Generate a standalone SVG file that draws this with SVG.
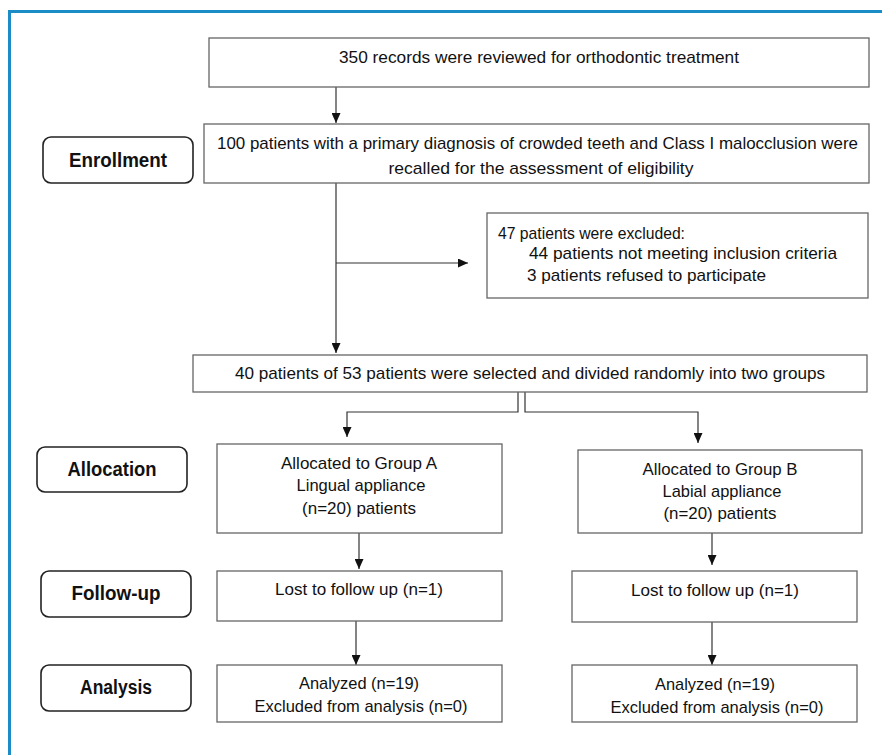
<svg xmlns="http://www.w3.org/2000/svg" width="882" height="755" viewBox="0 0 882 755">
<defs>
<marker id="ah" markerUnits="userSpaceOnUse" markerWidth="10" markerHeight="9" viewBox="0 0 10 9" refX="10" refY="4.5" orient="auto">
<path d="M0 0 L10 4.5 L0 9 z" fill="#111"/>
</marker>
<style>
.box{fill:#fff;stroke:#666;stroke-width:1.3}
.lab{fill:#fff;stroke:#222;stroke-width:1.6}
.t{font-family:"Liberation Sans",Arial,sans-serif;font-size:17px;fill:#111;text-anchor:middle}
.tl{font-family:"Liberation Sans",Arial,sans-serif;font-size:17px;fill:#111}
.b{font-family:"Liberation Sans",Arial,sans-serif;font-size:20px;font-weight:bold;fill:#111;text-anchor:middle}
.c{fill:none;stroke:#333;stroke-width:1.2}
</style>
</defs>
<rect width="882" height="755" fill="#fff"/>
<path d="M9.5 755 V11.5 H882" fill="none" stroke="#1a8cc6" stroke-width="3"/>

<g id="connectors">
<path class="c" d="M336 87 V123" marker-end="url(#ah)"/>
<path class="c" d="M336 183 V353" marker-end="url(#ah)"/>
<path class="c" d="M336 263 H468" marker-end="url(#ah)"/>
<path class="c" d="M518 392 V412 H347 V437" marker-end="url(#ah)"/>
<path class="c" d="M525 392 V412 H698 V443" marker-end="url(#ah)"/>
<path class="c" d="M359 533 V569" marker-end="url(#ah)"/>
<path class="c" d="M356 621 V665" marker-end="url(#ah)"/>
<path class="c" d="M712 533 V565" marker-end="url(#ah)"/>
<path class="c" d="M712 622 V665" marker-end="url(#ah)"/>
</g>

<g id="records">
<rect class="box" x="209" y="38" width="660" height="49"/>
<text class="t" x="539" y="63" textLength="400" lengthAdjust="spacingAndGlyphs">350 records were reviewed for orthodontic treatment</text>
</g>

<g id="enrollment-label">
<rect class="lab" x="43" y="137" width="150" height="46" rx="8"/>
<text class="b" x="118" y="167" textLength="98" lengthAdjust="spacingAndGlyphs">Enrollment</text>
</g>

<g id="recalled">
<rect class="box" x="204" y="124" width="665" height="59"/>
<text class="t" x="537.5" y="149" textLength="641" lengthAdjust="spacingAndGlyphs">100 patients with a primary diagnosis of crowded teeth and Class I malocclusion were</text>
<text class="t" x="541" y="174" textLength="305" lengthAdjust="spacingAndGlyphs">recalled for the assessment of eligibility</text>
</g>

<g id="excluded">
<rect class="box" x="487" y="213" width="381" height="85"/>
<text class="tl" x="498" y="239" textLength="187" lengthAdjust="spacingAndGlyphs">47 patients were excluded:</text>
<text class="tl" x="529" y="259" textLength="308" lengthAdjust="spacingAndGlyphs">44 patients not meeting inclusion criteria</text>
<text class="tl" x="527" y="281" textLength="239" lengthAdjust="spacingAndGlyphs">3 patients refused to participate</text>
</g>

<g id="selected">
<rect class="box" x="193" y="355" width="674" height="37"/>
<text class="t" x="530" y="379" textLength="590" lengthAdjust="spacingAndGlyphs">40 patients of 53 patients were selected and divided randomly into two groups</text>
</g>

<g id="allocation-label">
<rect class="lab" x="37" y="447" width="150" height="45" rx="8"/>
<text class="b" x="112" y="476" textLength="89" lengthAdjust="spacingAndGlyphs">Allocation</text>
</g>

<g id="group-a">
<rect class="box" x="217" y="444" width="285" height="89"/>
<text class="t" x="359" y="469" textLength="156" lengthAdjust="spacingAndGlyphs">Allocated to Group A</text>
<text class="t" x="361" y="491" textLength="129" lengthAdjust="spacingAndGlyphs">Lingual appliance</text>
<text class="t" x="359" y="514" textLength="114" lengthAdjust="spacingAndGlyphs">(n=20) patients</text>
</g>

<g id="group-b">
<rect class="box" x="578" y="450" width="284" height="83"/>
<text class="t" x="720" y="475" textLength="155" lengthAdjust="spacingAndGlyphs">Allocated to Group B</text>
<text class="t" x="722" y="497" textLength="119" lengthAdjust="spacingAndGlyphs">Labial appliance</text>
<text class="t" x="720" y="519" textLength="113" lengthAdjust="spacingAndGlyphs">(n=20) patients</text>
</g>

<g id="followup-label">
<rect class="lab" x="41" y="571" width="150" height="46" rx="8"/>
<text class="b" x="116" y="600" textLength="89" lengthAdjust="spacingAndGlyphs">Follow-up</text>
</g>

<g id="followup-a">
<rect class="box" x="217" y="571" width="285" height="50"/>
<text class="t" x="359" y="595" textLength="168" lengthAdjust="spacingAndGlyphs">Lost to follow up (n=1)</text>
</g>

<g id="followup-b">
<rect class="box" x="572" y="571" width="285" height="51"/>
<text class="t" x="715" y="596" textLength="168" lengthAdjust="spacingAndGlyphs">Lost to follow up (n=1)</text>
</g>

<g id="analysis-label">
<rect class="lab" x="41" y="665" width="150" height="46" rx="8"/>
<text class="b" x="116" y="694" textLength="72" lengthAdjust="spacingAndGlyphs">Analysis</text>
</g>

<g id="analysis-a">
<rect class="box" x="217" y="665" width="285" height="57"/>
<text class="t" x="359" y="689" textLength="120" lengthAdjust="spacingAndGlyphs">Analyzed (n=19)</text>
<text class="t" x="361" y="712" textLength="213" lengthAdjust="spacingAndGlyphs">Excluded from analysis (n=0)</text>
</g>

<g id="analysis-b">
<rect class="box" x="572" y="665" width="285" height="57"/>
<text class="t" x="715" y="690" textLength="120" lengthAdjust="spacingAndGlyphs">Analyzed (n=19)</text>
<text class="t" x="717" y="713" textLength="213" lengthAdjust="spacingAndGlyphs">Excluded from analysis (n=0)</text>
</g>
</svg>
